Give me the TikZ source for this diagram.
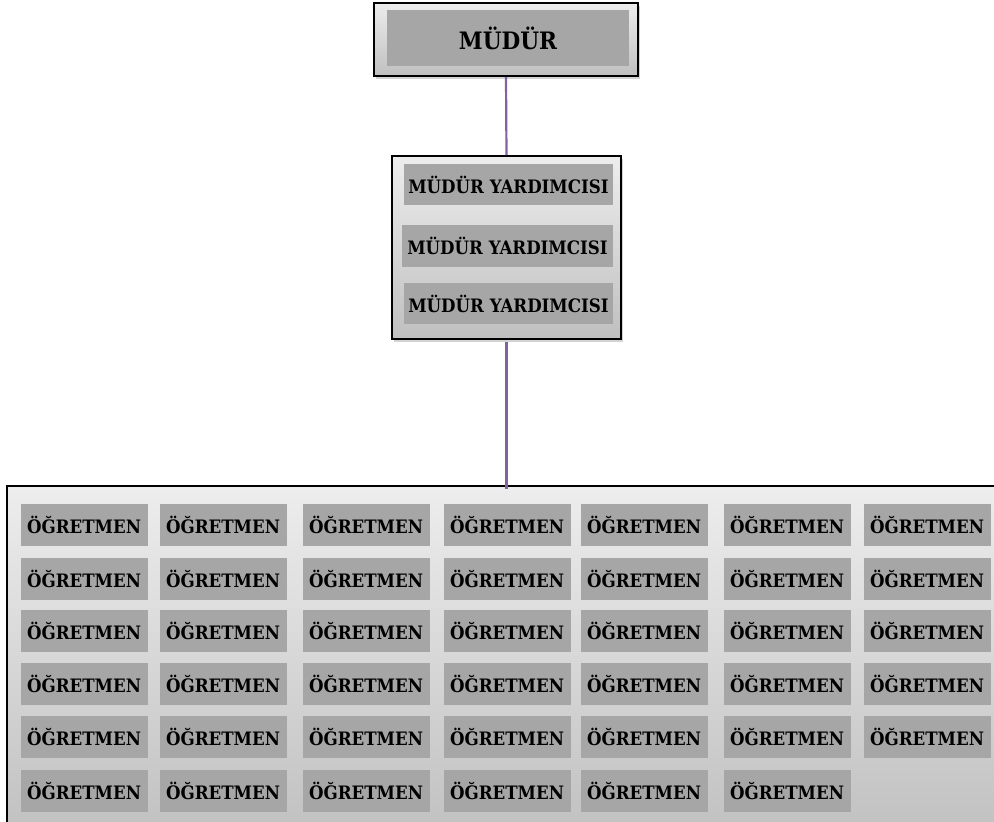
\documentclass[tikz,border=0pt]{standalone}
\usepackage{fontspec}
\setmainfont{DejaVu Serif Condensed}
\usetikzlibrary{shadows}
\definecolor{boxgray}{RGB}{166,166,166}
\definecolor{linkpurple}{RGB}{128,100,162}

\begin{document}
\begin{tikzpicture}[
    x=1pt,y=-1pt,
    outerbox/.style={draw=black,line width=2pt,top color=black!7,bottom color=black!25,
      drop shadow={opacity=0.35,shadow xshift=2pt,shadow yshift=-3pt}},
    inbox/.style={fill=boxgray,inner sep=0pt,font=\bfseries\fontsize{18.5}{19}\selectfont},
    teacher/.style={inbox,minimum width=127pt,minimum height=42pt},
    link/.style={line width=2.2pt,linkpurple}
    ]
    \useasboundingbox (0,0) rectangle (994,822);
    % top box
    \node[outerbox,minimum width=264pt,minimum height=73pt] (mudur) at (506,39.5) {};
    \node[inbox,minimum width=242pt,minimum height=56pt,font=\bfseries\fontsize{24}{24}\selectfont] (mudurin) at (508,38) {MÜDÜR};
    % middle box
    \node[outerbox,minimum width=229pt,minimum height=183pt] (vice) at (506.5,247.5) {};
    \node[inbox,minimum width=209pt,minimum height=41pt] (vice1) at (508.5,184.5) {MÜDÜR YARDIMCISI};
    \node[inbox,minimum width=211pt,minimum height=42pt] (vice2) at (507.5,246) {MÜDÜR YARDIMCISI};
    \node[inbox,minimum width=209pt,minimum height=41pt] (vice3) at (508.5,303.5) {MÜDÜR YARDIMCISI};
    % staff box
    \node[outerbox,anchor=north west,minimum width=1010pt,minimum height=360pt] (staff) at (6,485) {};
    \foreach \y [count=\r] in {525,579,631,684,737}
      \foreach \x [count=\c] in {84,223,366,507,644,787,927}
        \node[teacher] (t\r\c) at (\x,\y) {ÖĞRETMEN};
    \foreach \x [count=\c] in {84,223,366,507,644,787}
      \node[teacher] (t6\c) at (\x,791) {ÖĞRETMEN};
    % connectors
    \draw[link] (mudur.south) -- (vice.north);
    \draw[link] ([yshift=-2pt]vice.south) -- ([yshift=-4pt]vice.south |- staff.north);
\end{tikzpicture}
\end{document}
